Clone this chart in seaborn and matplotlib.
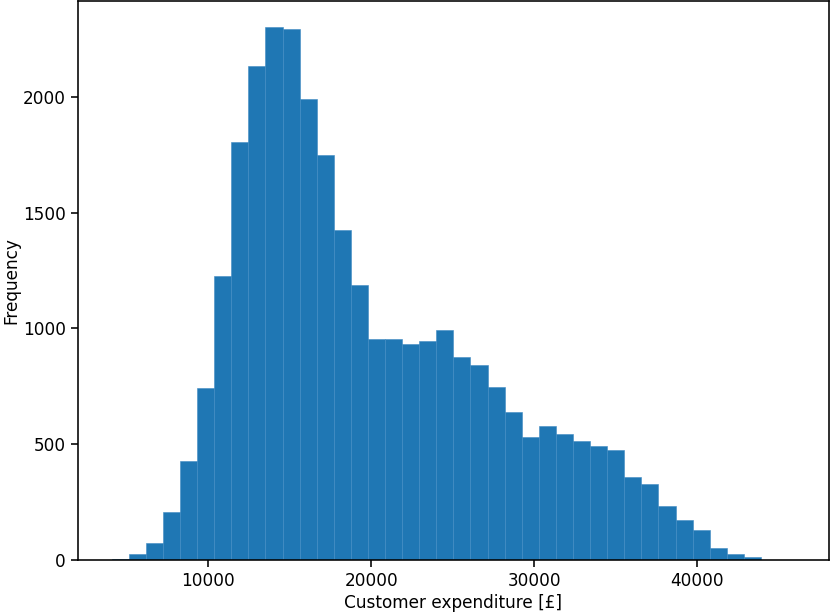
import numpy as np
import pandas as pd
import matplotlib
matplotlib.use("Agg")
import matplotlib.pyplot as plt
import seaborn as sns

# Histogram counts (40 bins, ~1048 wide)
bin_start = 4090
bin_end = 46000
counts = [6, 24, 75, 208, 427, 741, 1228, 1806, 2131, 2300,
          2291, 1990, 1750, 1425, 1187, 953, 953, 931, 947, 993,
          878, 841, 747, 641, 531, 578, 544, 514, 493, 475,
          360, 329, 231, 172, 131, 53, 26, 11, 0, 0]

edges = np.linspace(bin_start, bin_end, len(counts) + 1)
centers = (edges[:-1] + edges[1:]) / 2
df = pd.DataFrame({"expenditure": centers, "count": counts})

plt.rcParams["font.size"] = 12.2
plt.rcParams["axes.linewidth"] = 1.15
plt.rcParams["xtick.major.size"] = 5
plt.rcParams["ytick.major.size"] = 5
plt.rcParams["xtick.major.width"] = 1.15
plt.rcParams["ytick.major.width"] = 1.15

fig, ax = plt.subplots(figsize=(8.3, 6.12), dpi=100)
fig.subplots_adjust(left=77.5 / 830, right=829.3 / 830, top=1 - 0.6 / 612, bottom=1 - 560 / 612)

sns.histplot(data=df, x="expenditure", weights="count", bins=edges.tolist(),
             color="#1f77b4", alpha=1, linewidth=0.4, edgecolor="#3f8bc3", ax=ax)

ax.set_xlabel("Customer expenditure [£]", labelpad=3)
ax.set_ylabel("Frequency", labelpad=2)
ax.set_xticks([10000, 20000, 30000, 40000])
ax.set_yticks([0, 500, 1000, 1500, 2000])

fig.savefig("out.png", dpi=100)
